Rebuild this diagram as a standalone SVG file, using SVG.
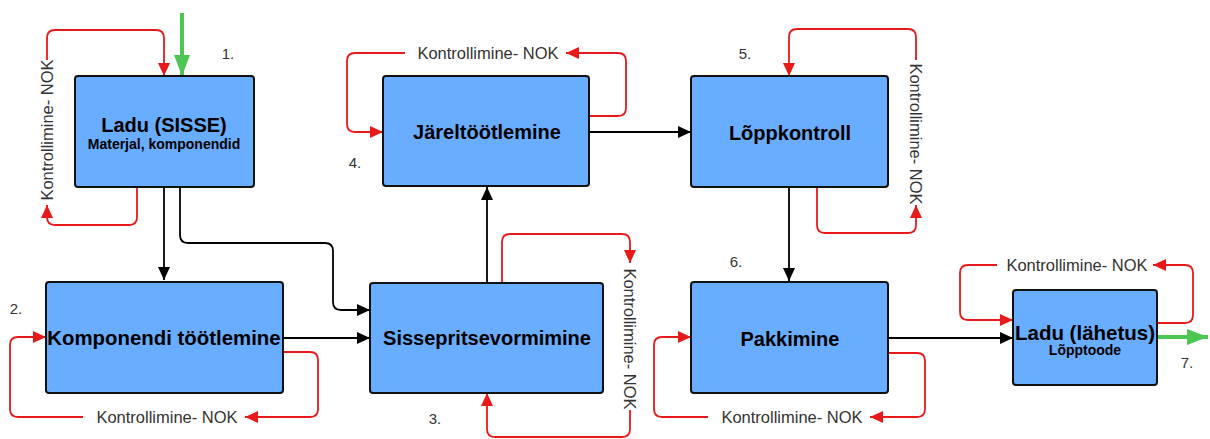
<svg xmlns="http://www.w3.org/2000/svg" width="1210" height="439" viewBox="0 0 1210 439">
<style>
.box{fill:#68adff;stroke:#111;stroke-width:2}
.t{font-family:"Liberation Sans",Arial,sans-serif;font-weight:bold;fill:#000;text-anchor:middle;dominant-baseline:central}
.lbl{font-family:"Liberation Sans",Arial,sans-serif;font-size:16.5px;fill:#333;text-anchor:middle;dominant-baseline:central}
.num{font-family:"Liberation Sans",Arial,sans-serif;font-size:15px;fill:#333;text-anchor:middle;dominant-baseline:central}
.blk{fill:none;stroke:#000;stroke-width:1.8;marker-end:url(#ab)}
.red{fill:none;stroke:#e8191b;stroke-width:1.8}
.reda{marker-end:url(#ar)}
.grn{fill:none;stroke:#4cc552;stroke-width:4;marker-end:url(#ag)}
</style>
<defs>
<marker id="ab" markerUnits="userSpaceOnUse" markerWidth="14" markerHeight="12" refX="13" refY="6" orient="auto"><path d="M0,0 L13,6 L0,12 Z" fill="#000"/></marker>
<marker id="ar" markerUnits="userSpaceOnUse" markerWidth="14" markerHeight="12" refX="13" refY="6" orient="auto"><path d="M0,0 L13,6 L0,12 Z" fill="#e8191b"/></marker>
<marker id="ag" markerUnits="userSpaceOnUse" markerWidth="22" markerHeight="16" refX="21" refY="8" orient="auto"><path d="M0,0 L21,8 L0,16 Z" fill="#4cc552"/></marker>
</defs>
<g id="connectors">
<path class="grn" d="M182,13 V76"/>
<path class="grn" d="M1157,337 H1208"/>
<path class="blk" d="M164,187 V280"/>
<path class="blk" d="M180,187 V235 Q180,243 188,243 H325 Q333,243 333,251 V302 Q333,310 341,310 H370"/>
<path class="blk" d="M283,338 H370"/>
<path class="blk" d="M487,283 V187"/>
<path class="blk" d="M589,132 H691"/>
<path class="blk" d="M789,187 V281"/>
<path class="blk" d="M888,338 H1013"/>
<path class="red reda" d="M137,187 V217 Q137,225 129,225 H55 Q47,225 47,217 V205"/>
<path class="red reda" d="M47,60 V38 Q47,30 55,30 H156 Q164,30 164,38 V76"/>
<path class="red reda" d="M283,352 H310 Q318,352 318,360 V409 Q318,417 310,417 H245"/>
<path class="red reda" d="M83,417 H18 Q10,417 10,409 V345 Q10,337 18,337 H46"/>
<path class="red reda" d="M502,283 V242 Q502,234 510,234 H622 Q630,234 630,242 V263"/>
<path class="red reda" d="M630,410 V429 Q630,437 622,437 H495 Q487,437 487,429 V393"/>
<path class="red reda" d="M589,116 H618 Q626,116 626,108 V61 Q626,53 618,53 H566"/>
<path class="red reda" d="M405,53 H355 Q347,53 347,61 V124 Q347,132 355,132 H383"/>
<path class="red reda" d="M817,187 V225 Q817,233 825,233 H908 Q916,233 916,225 V205"/>
<path class="red reda" d="M916,60 V37 Q916,29 908,29 H797 Q789,29 789,37 V76"/>
<path class="red reda" d="M888,353 H917 Q925,353 925,361 V409 Q925,417 917,417 H870"/>
<path class="red reda" d="M708,417 H662 Q654,417 654,409 V345 Q654,337 662,337 H691"/>
<path class="red reda" d="M1157,323 H1185 Q1193,323 1193,315 V273 Q1193,265 1185,265 H1153"/>
<path class="red reda" d="M997,265 H968 Q960,265 960,273 V312 Q960,320 968,320 H1013"/>
<text class="lbl" transform="translate(47,130) rotate(-90)">Kontrollimine- NOK</text>
<text class="lbl" x="167" y="417">Kontrollimine- NOK</text>
<text class="lbl" transform="translate(630,339) rotate(90)">Kontrollimine- NOK</text>
<text class="lbl" x="488" y="53">Kontrollimine- NOK</text>
<text class="lbl" transform="translate(916,134) rotate(90)">Kontrollimine- NOK</text>
<text class="lbl" x="792" y="417">Kontrollimine- NOK</text>
<text class="lbl" x="1077" y="265">Kontrollimine- NOK</text>
</g>
<g id="n1">
<rect class="box" x="75" y="76" width="179" height="111" rx="3"/>
<text class="t" x="164" y="125" font-size="20">Ladu (SISSE)</text>
<text class="t" x="164" y="144" font-size="14">Materjal, komponendid</text>
<text class="num" x="228" y="53">1.</text>
</g>
<g id="n2">
<rect class="box" x="46" y="282" width="237" height="111" rx="3"/>
<text class="t" x="164" y="338" font-size="20.4">Komponendi töötlemine</text>
<text class="num" x="16" y="308">2.</text>
</g>
<g id="n3">
<rect class="box" x="370" y="283" width="233" height="110" rx="3"/>
<text class="t" x="487" y="338" font-size="20">Sissepritsevormimine</text>
<text class="num" x="435" y="418">3.</text>
</g>
<g id="n4">
<rect class="box" x="383" y="76" width="206" height="110" rx="3"/>
<text class="t" x="487" y="132" font-size="20">Järeltöötlemine</text>
<text class="num" x="355" y="162">4.</text>
</g>
<g id="n5">
<rect class="box" x="691" y="76" width="197" height="111" rx="3"/>
<text class="t" x="790" y="133" font-size="20">Lõppkontroll</text>
<text class="num" x="745" y="53">5.</text>
</g>
<g id="n6">
<rect class="box" x="691" y="282" width="197" height="111" rx="3"/>
<text class="t" x="790" y="339" font-size="20">Pakkimine</text>
<text class="num" x="736" y="261">6.</text>
</g>
<g id="n7">
<rect class="box" x="1013" y="290" width="144" height="95" rx="3"/>
<text class="t" x="1085" y="332" font-size="20.5">Ladu (lähetus)</text>
<text class="t" x="1085" y="350" font-size="14">Lõpptoode</text>
<text class="num" x="1187" y="362">7.</text>
</g>
</svg>
